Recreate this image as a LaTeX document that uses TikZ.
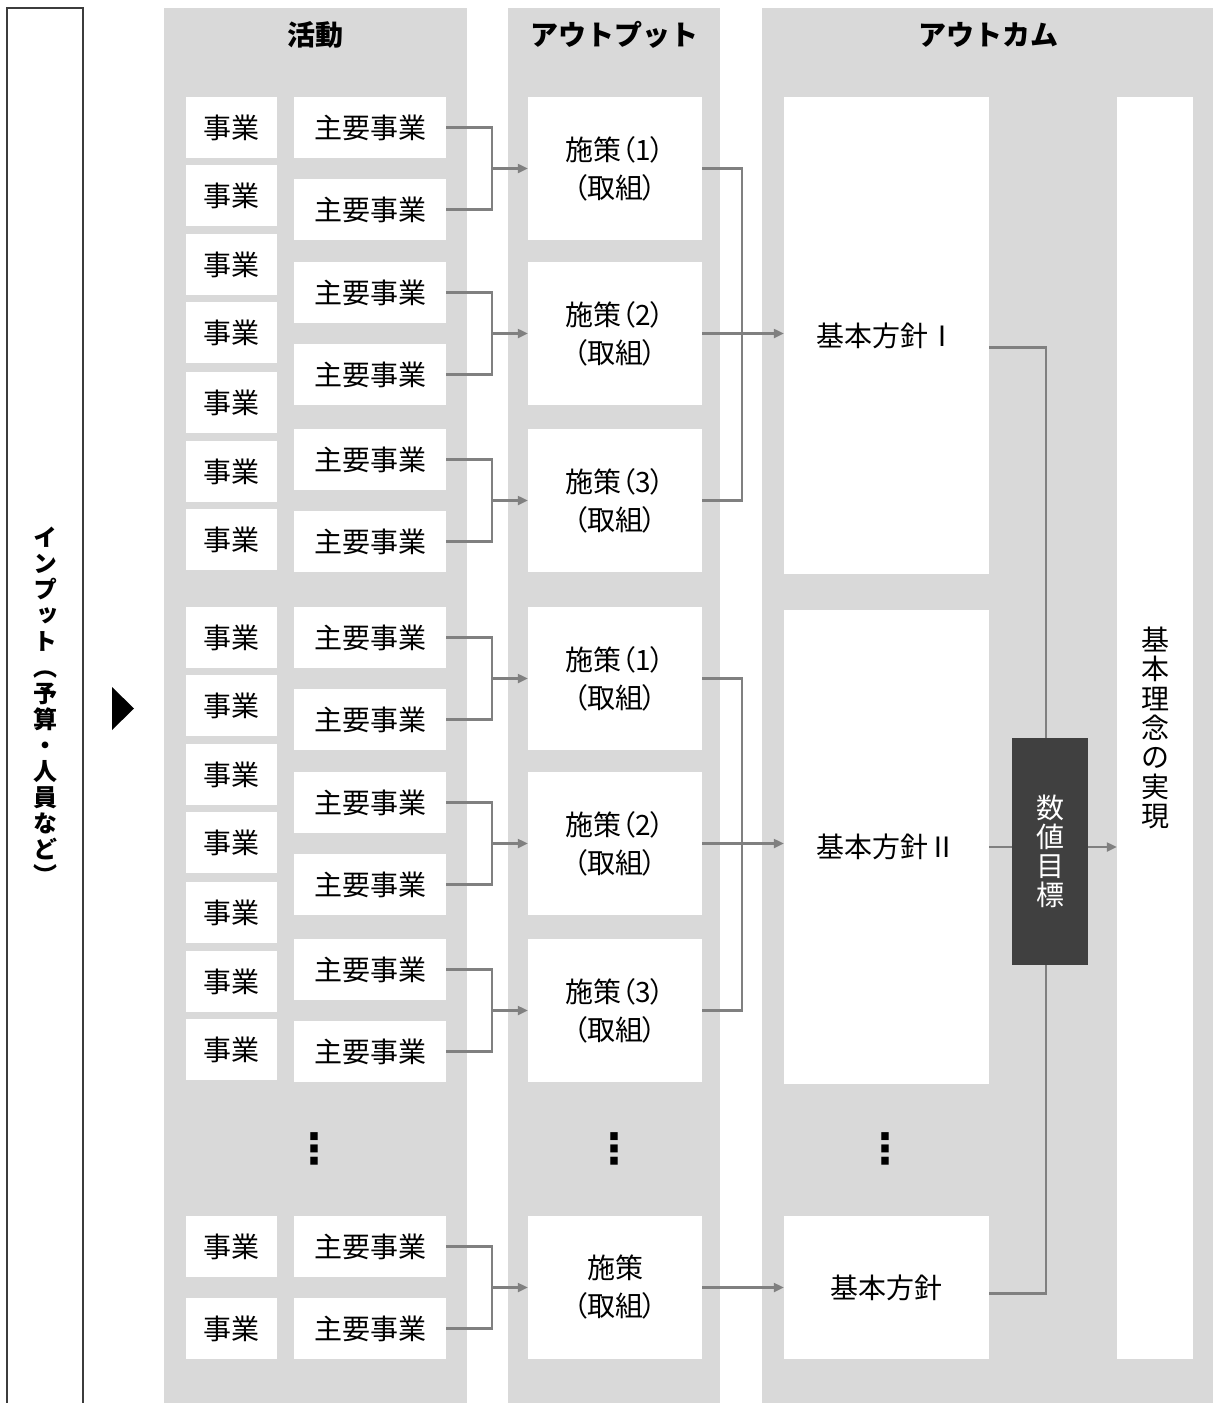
\documentclass[tikz,border=0pt]{standalone}
\usepackage{fontspec}
\usetikzlibrary{arrows.meta,calc}
\newfontfamily\jp{Noto Sans CJK JP}
\newfontfamily\jpp[RawFeature=+palt]{Noto Sans CJK JP}
\newfontfamily\jpv[RawFeature=+vert]{Noto Sans CJK JP}
\newfontfamily\dvs{DejaVu Sans}
\definecolor{colbg}{RGB}{217,217,217}
\definecolor{lineg}{RGB}{128,128,128}
\definecolor{darkbox}{RGB}{64,64,64}
\definecolor{frameg}{RGB}{60,60,60}
\begin{document}
\begin{tikzpicture}[x=1pt,y=-1pt,
 box/.style={fill=white, draw=none, inner sep=0pt, font=\jp\fontsize{28}{34}\selectfont},
 jbox/.style={box, minimum width=91pt, minimum height=61pt},
 sbox/.style={box, minimum width=152pt, minimum height=61pt},
 pbox/.style={box, minimum width=174pt, minimum height=143pt, align=center, font=\jpp\fontsize{28}{38}\selectfont},
 kbox/.style={box, minimum width=205pt},
 col/.style={fill=colbg, draw=none},
 head/.style={inner sep=0pt, font=\jp\bfseries\fontsize{28}{34}\selectfont},
 line/.style={draw=lineg, line width=2.2pt},
 arr/.style={line, -{Triangle[length=10pt,width=9pt]}},
 dots/.style={inner sep=0pt, font=\dvs\bfseries\fontsize{42}{42}\selectfont}
]
\useasboundingbox (0,0) rectangle (1213,1403);
\fill[white] (0,0) rectangle (1213,1403);
% columns
\path[col] (164,8) rectangle (467,1403);
\path[col] (508,8) rectangle (720,1403);
\path[col] (762,8) rectangle (1213,1403);
% input frame
\draw[frameg, line width=1.3pt] (7,1404) -- (7,8) -- (83,8) -- (83,1404);
\node[align=center, inner sep=0pt, font=\jpv\bfseries\fontsize{24}{26}\selectfont] (inp) at (45,706)
 {イ\\ン\\プ\\ッ\\ト\\（\\予\\算\\・\\人\\員\\な\\ど\\）};
\fill (112,687) -- (134,708.5) -- (112,730) -- cycle;
% headers
\node[head] (h1) at (315.5,35) {活動};
\node[head] (h2) at (614,35) {アウトプット};
\node[head] (h3) at (988,35) {アウトカム};
% activity boxes
\foreach \y [count=\i] in {127.5,195.5,264.5,332.5,402.5,471.5,539.5,637.5,705.5,774.5,842.5,912.5,981.5,1049.5,1246.5,1328.5}
 \node[jbox] (j\i) at (231.5,\y) {事業};
\foreach \y [count=\i] in {127.5,209.5,292.5,374.5,459.5,541.5,637.5,719.5,802.5,884.5,969.5,1051.5,1246.5,1328.5}
 \node[sbox] (s\i) at (370,\y) {主要事業};
% outputs
\node[pbox] (p1) at (615,168.5) {施策（1）\\（取組）};
\node[pbox] (p2) at (615,333.5) {施策（2）\\（取組）};
\node[pbox] (p3) at (615,500.5) {施策（3）\\（取組）};
\node[pbox] (p4) at (615,678.5) {施策（1）\\（取組）};
\node[pbox] (p5) at (615,843.5) {施策（2）\\（取組）};
\node[pbox] (p6) at (615,1010.5) {施策（3）\\（取組）};
\node[pbox] (p7) at (615,1287.5) {施策\\（取組）};
% activity -> output connectors
\foreach \i [evaluate=\i as \a using int(2*\i-1), evaluate=\i as \b using int(2*\i)] in {1,...,7}{
 \coordinate (jn\i) at ($(p\i.west)+(-36,0)$);
 \draw[line] (s\a.east) -| (jn\i) |- (s\b.east);
 \draw[arr] (jn\i) -- (p\i.west);
}
% outcomes
\node[kbox, minimum height=477pt] (k1) at (886.5,335.5) {基本方針Ⅰ};
\node[kbox, minimum height=474pt] (k2) at (886.5,847) {基本方針Ⅱ};
\node[kbox, minimum height=143pt] (k3) at (886.5,1287.5) {基本方針};
\node[box, minimum width=76pt, minimum height=1262pt, align=center, font=\jp\fontsize{28}{29.3}\selectfont] (rinen) at (1155,728)
 {基\\本\\理\\念\\の\\実\\現};
\node[fill=darkbox, minimum width=76pt, minimum height=227pt, inner sep=0pt, text=white, align=center, font=\jp\fontsize{28}{29}\selectfont] (goal) at (1050,851.5)
 {数\\値\\目\\標};
% output -> outcome connectors
\draw[line] (p1.east) -- ++(40,0) |- (p3.east);
\draw[arr] (p2.east) -- (p2.east -| k1.west);
\draw[line] (p4.east) -- ++(40,0) |- (p6.east);
\draw[arr] (p5.east) -- (p5.east -| k2.west);
\draw[arr] (p7.east) -- (p7.east -| k3.west);
% outcome -> goal
\draw[line] ($(k1.east)+(0,12)$) -| ($(goal.north)+(-4,0)$);
\draw[line] (k2.east) -- (k2.east -| goal.west);
\draw[line] ($(k3.east)+(0,6)$) -| ($(goal.south)+(-4,0)$);
\draw[arr] (k2.east -| goal.east) -- (k2.east -| rinen.west);
% ellipses
\node[dots] (d1) at (314,1149) {⋮};
\node[dots] (d2) at (614,1149) {⋮};
\node[dots] (d3) at (885,1149) {⋮};
\end{tikzpicture}
\end{document}
